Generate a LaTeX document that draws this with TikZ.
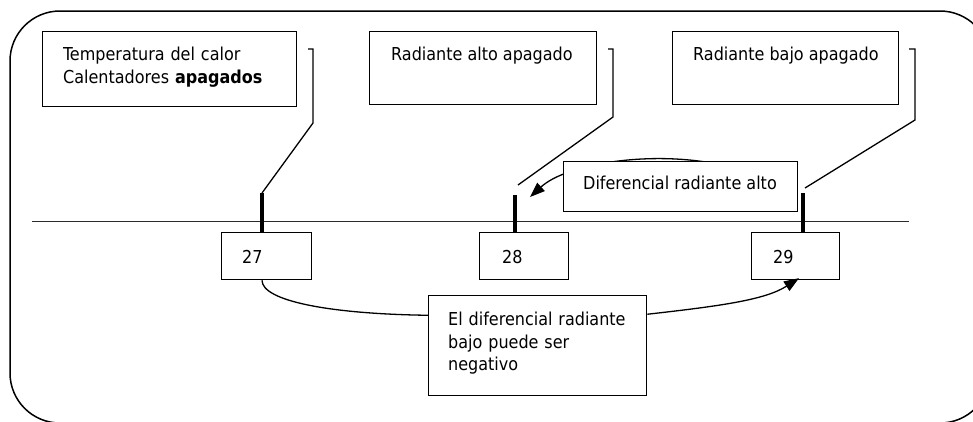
\documentclass[tikz,border=0pt]{standalone}
\usepackage{fontspec}
\setmainfont{DejaVu Sans Condensed}
\usetikzlibrary{arrows.meta,calc}
\definecolor{inkline}{HTML}{000000}
\definecolor{axisgray}{HTML}{2A2A2A}
\pgfdeclarelayer{behind}
\pgfsetlayers{behind,main}
\tikzset{
  frame/.style={draw=inkline, line width=1.5pt, rounded corners=50pt},
  card/.style={rectangle, draw=inkline, fill=white, line width=1.3pt, inner sep=0pt, anchor=north west},
  txt/.style={font=\fontsize{17.8}{22.5}\selectfont, anchor=base west, inner sep=0pt, align=left},
  lead/.style={draw=inkline, line width=1.3pt},
  ticbar/.style={draw=inkline, line width=3.8pt},
  axisln/.style={draw=axisgray, line width=1pt},
  arr/.style={-{Triangle[length=15pt,width=11pt]}, draw=inkline, line width=1.3pt},
}
\begin{document}
\begin{tikzpicture}[x=1pt,y=-1pt]
  \useasboundingbox (0,0) rectangle (973,421);
  \clip (0,0) rectangle (973,421);
  \draw[frame] (10,11) rectangle (990,423);
  % top cards
  \node[card, minimum width=254, minimum height=75] (calbox) at (42,31) {};
  \node[txt, text width=225] (caltxt) at (63,60.5) {Temperatura del calor\\Calentadores \textbf{apagados}};
  \node[card, minimum width=227, minimum height=73] (altobox) at (369,31) {};
  \node[txt] (altotxt) at (391,60.7) {Radiante alto apagado};
  \node[card, minimum width=226, minimum height=73] (bajobox) at (672,31) {};
  \node[txt] (bajotxt) at (693,60.7) {Radiante bajo apagado};
  % axis
  \coordinate (ax1) at (32,221);
  \coordinate (ax2) at (909,221);
  \draw[axisln] (ax1) -- (ax2);
  % value cards
  \node[card, minimum width=90, minimum height=47] (n27) at (221,232) {};
  \node[txt] (t27) at (242,263.3) {27};
  \node[card, minimum width=89, minimum height=47] (n28) at (479,232) {};
  \node[txt] (t28) at (502,263.3) {28};
  \node[card, minimum width=88, minimum height=47] (n29) at (751,232) {};
  \node[txt] (t29) at (773,263.3) {29};
  % ticks
  \coordinate (k27) at (262,193);
  \coordinate (k28) at (515,195);
  \coordinate (k29) at (803,193);
  \draw[ticbar] (k27) -- (k27 |- n27.north);
  \draw[ticbar] (k28) -- (k28 |- n28.north);
  \draw[ticbar] (k29) -- (k29 |- n29.north);
  % leaders
  \coordinate (h1a) at (308,49);
  \coordinate (h1b) at (313,49);
  \coordinate (h1c) at (313,123);
  \draw[lead] (h1a) -- (h1b) -- (h1c) -- (k27);
  \coordinate (h2a) at (608,49);
  \coordinate (h2b) at (613,49);
  \coordinate (h2c) at (613,117);
  \coordinate (e28) at (518,185);
  \draw[lead] (h2a) -- (h2b) -- (h2c) -- (e28);
  \coordinate (h3a) at (909,49);
  \coordinate (h3b) at (915,49);
  \coordinate (h3c) at (915,120);
  \coordinate (e29) at (805,188);
  \draw[lead] (h3a) -- (h3b) -- (h3c) -- (e29);
  % differential cards
  \node[card, minimum width=234, minimum height=50] (dra) at (563,161) {};
  \node[txt] (dratxt) at (583,189) {Diferencial radiante alto};
  \coordinate (dsrc) at ($(dra.north)+(25,1)$);
  \coordinate (d28) at (530,197);
  \begin{pgfonlayer}{behind}
    \draw[arr] (dsrc) .. controls (640,152) and (565,165) .. (d28);
  \end{pgfonlayer}
  \node[card, minimum width=218, minimum height=100] (nbox) at (428,295) {};
  \node[txt, text width=190] (nbtxt) at (448,325.7) {El diferencial radiante\\bajo puede ser\\negativo};
  \draw[lead] (k27 |- n27.south) .. controls (262,301) and (330,314) .. ($(nbox.north west)!0.2!(nbox.south west)$);
  \draw[arr, shorten >=-4pt] ($(nbox.north east)!0.19!(nbox.south east)$) .. controls (720,306) and (765,300) .. (n29.south);
\end{tikzpicture}
\end{document}
